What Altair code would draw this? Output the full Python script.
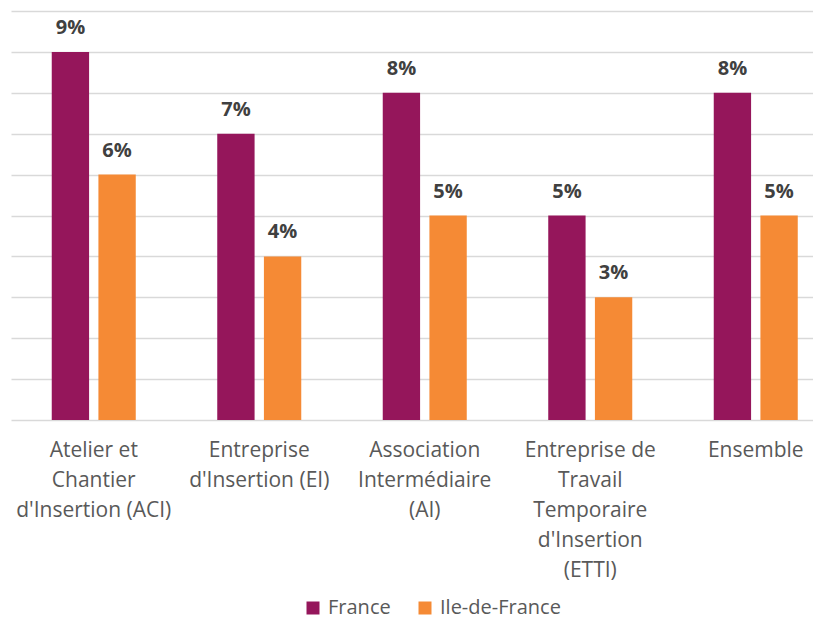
import altair as alt
import pandas as pd

categories = [
    "Atelier et|Chantier|d'Insertion (ACI)",
    "Entreprise|d'Insertion (EI)",
    "Association|Intermédiaire|(AI)",
    "Entreprise de|Travail|Temporaire|d'Insertion|(ETTI)",
    "Ensemble",
]
series = ["France", "Ile-de-France"]
france = [9, 7, 8, 5, 8]
idf = [6, 4, 5, 3, 5]
colors = ["#95165B", "#F58A35"]

rows = []
for c, f, i in zip(categories, france, idf):
    rows.append({"cat": c, "serie": "France", "val": f})
    rows.append({"cat": c, "serie": "Ile-de-France", "val": i})
df = pd.DataFrame(rows)

FONT = "Open Sans"

x = alt.X(
    "cat:N",
    sort=categories,
    scale=alt.Scale(range=[0, 827.5], paddingInner=0.4924, paddingOuter=0.2462),
    axis=alt.Axis(
        title=None,
        labelExpr="split(datum.label, '|')",
        labelAngle=0,
        labelFont=FONT,
        labelFontSize=21,
        labelColor="#595959",
        labelLineHeight=30,
        labelPadding=19,
        labelBaseline="top",
        domain=False,
        ticks=False,
        labelLimit=300,
    ),
)
xoff = alt.XOffset("serie:N", sort=series, scale=alt.Scale(paddingInner=0.2))
y = alt.Y(
    "val:Q",
    scale=alt.Scale(domain=[0, 10]),
    axis=alt.Axis(
        title=None,
        labels=False,
        ticks=False,
        domain=False,
        grid=True,
        gridColor="#D9D9D9",
        gridWidth=1.5,
        values=list(range(0, 11)),
    ),
)

base = alt.Chart(df)

bars = base.mark_bar().encode(
    x=x,
    xOffset=xoff,
    y=y,
    color=alt.Color(
        "serie:N",
        sort=series,
        scale=alt.Scale(domain=series, range=colors),
        legend=alt.Legend(
            title=None,
            orient="none",
            legendX=292,
            legendY=587,
            direction="horizontal",
            symbolType="square",
            symbolSize=169,
            symbolStrokeWidth=0,
            labelFont=FONT,
            labelFontSize=20,
            labelColor="#595959",
            labelOffset=5,
            columnPadding=24,
        ),
    ),
)

labels = base.transform_calculate(lab="datum.val + '%'").mark_text(
    font=FONT, fontSize=20, fontWeight="bold", color="#404040",
    baseline="alphabetic", dy=-18,
).encode(x=x, xOffset=xoff, y="val:Q", text="lab:N")

chart = (
    alt.layer(bars, labels)
    .properties(
        width=802,
        height=409,
        autosize=alt.AutoSizeParams(type="none"),
        padding={"left": 3, "top": 3, "right": 0, "bottom": 200},
    )
    .configure_view(stroke=None)
)

chart.save("out.html", embed_options={"renderer": "svg", "actions": False})
